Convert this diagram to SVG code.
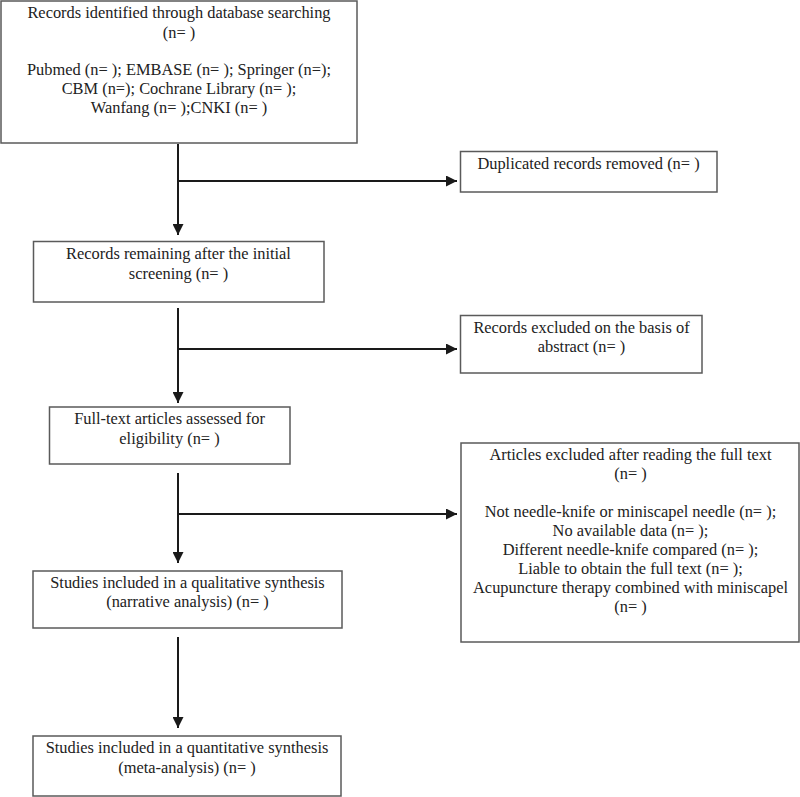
<svg xmlns="http://www.w3.org/2000/svg" width="800" height="797" viewBox="0 0 800 797">
<defs>
<marker id="arr" markerUnits="userSpaceOnUse" markerWidth="11" markerHeight="11" viewBox="0 0 10 10" refX="10" refY="5" orient="auto">
<path d="M0,0 L10,5 L0,10 Z" fill="#1a1a1a"/>
</marker>
<style>
.box{fill:#fff;stroke:#5a5a5a;stroke-width:1.5}
.t{font-family:"Liberation Serif","Times New Roman",serif;font-size:16.4px;fill:#222;text-anchor:middle}
.c{stroke:#1a1a1a;stroke-width:2;fill:none}
</style>
</defs>
<rect width="800" height="797" fill="#fff"/>
<g id="n1">
<rect class="box" x="1" y="1" width="356" height="142"/>
<text class="t" x="179" y="18">Records identified through database searching</text>
<text class="t" x="179" y="38">(n= )</text>
<text class="t" x="179" y="75">Pubmed (n= ); EMBASE (n= ); Springer (n=);</text>
<text class="t" x="179" y="94">CBM (n=); Cochrane Library (n= );</text>
<text class="t" x="179" y="113">Wanfang (n= );CNKI (n= )</text>
</g>
<g id="n2">
<rect class="box" x="460.5" y="151.5" width="256.5" height="40.5"/>
<text class="t" x="588.5" y="169">Duplicated records removed (n= )</text>
</g>
<g id="n3">
<rect class="box" x="33.5" y="241.5" width="290.5" height="60.5"/>
<text class="t" x="178.5" y="259">Records remaining after the initial</text>
<text class="t" x="178.5" y="279">screening (n= )</text>
</g>
<g id="n4">
<rect class="box" x="460.5" y="315.5" width="241.5" height="57.5"/>
<text class="t" x="581.5" y="333">Records excluded on the basis of</text>
<text class="t" x="581.5" y="352">abstract (n= )</text>
</g>
<g id="n5">
<rect class="box" x="49.5" y="407" width="240.5" height="57"/>
<text class="t" x="169.5" y="424">Full-text articles assessed for</text>
<text class="t" x="169.5" y="444">eligibility (n= )</text>
</g>
<g id="n6">
<rect class="box" x="461" y="443" width="338" height="199"/>
<text class="t" x="630.5" y="460">Articles excluded after reading the full text</text>
<text class="t" x="630.5" y="479">(n= )</text>
<text class="t" x="630.5" y="517">Not needle-knife or miniscapel needle (n= );</text>
<text class="t" x="630.5" y="536">No available data (n= );</text>
<text class="t" x="630.5" y="555">Different needle-knife compared (n= );</text>
<text class="t" x="630.5" y="574">Liable to obtain the full text (n= );</text>
<text class="t" x="630.5" y="593">Acupuncture therapy combined with miniscapel</text>
<text class="t" x="630.5" y="612">(n= )</text>
</g>
<g id="n7">
<rect class="box" x="33" y="571" width="309" height="57"/>
<text class="t" x="187.5" y="588">Studies included in a qualitative synthesis</text>
<text class="t" x="187.5" y="607">(narrative analysis) (n= )</text>
</g>
<g id="n8">
<rect class="box" x="33" y="736" width="308" height="60"/>
<text class="t" x="187" y="753">Studies included in a quantitative synthesis</text>
<text class="t" x="187" y="773">(meta-analysis) (n= )</text>
</g>
<g id="connectors">
<path class="c" d="M178,144 V235" marker-end="url(#arr)"/>
<path class="c" d="M178,181 H457" marker-end="url(#arr)"/>
<path class="c" d="M178,308 V403" marker-end="url(#arr)"/>
<path class="c" d="M178,349 H457" marker-end="url(#arr)"/>
<path class="c" d="M178,473 V563" marker-end="url(#arr)"/>
<path class="c" d="M178,514 H457" marker-end="url(#arr)"/>
<path class="c" d="M178,637 V728" marker-end="url(#arr)"/>
</g>
</svg>
